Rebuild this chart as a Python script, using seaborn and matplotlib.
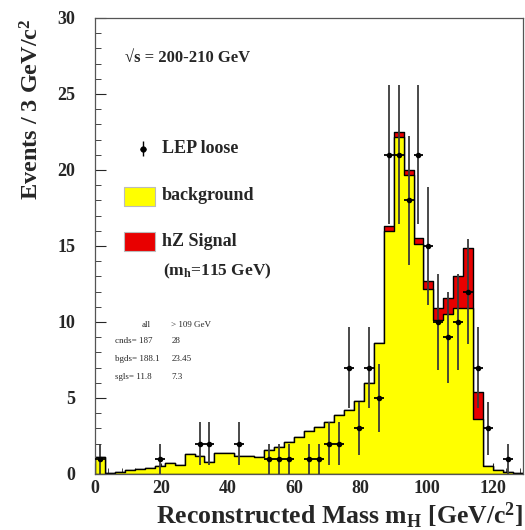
import numpy as np
import pandas as pd
import matplotlib
matplotlib.use("Agg")
import matplotlib.pyplot as plt
from matplotlib.patches import Rectangle
from matplotlib.ticker import MultipleLocator
import seaborn as sns

# ---------------- data ----------------
bin_edges = list(range(0, 130, 3))          # 3 GeV bins, 0..129
background = [1.1, 0.05, 0.15, 0.25, 0.3, 0.4, 0.5, 0.7, 0.6,
              1.3, 1.2, 0.8, 1.4, 1.35, 1.2, 1.2, 1.1,
              1.6, 1.8, 2.1, 2.45, 2.8, 3.1, 3.45, 3.9, 4.2, 4.8, 6.0, 8.6,
              16.0, 22.2, 19.7, 15.1, 12.2, 10.1, 10.5, 10.9, 10.9, 3.65,
              0.5, 0.25, 0.1, 0.05]
signal = [0.0] * 29 + [0.3, 0.3, 0.3, 0.4, 0.5, 0.8, 1.1, 2.1, 4.0, 1.75] + [0.0] * 4
data_mass = [1.5, 19.5, 31.5, 34.5, 43.5, 52.5, 55.5, 58.5, 64.5, 67.5, 70.5, 73.5,
             76.5, 79.5, 82.5, 85.5, 88.5, 91.5, 94.5, 97.5, 100.5, 103.5, 106.5,
             109.5, 112.5, 115.5, 118.5, 124.5]
data_counts = [1, 1, 2, 2, 2, 1, 1, 1, 1, 1, 2, 2,
               7, 3, 7, 5, 21, 21, 18, 21, 15, 10, 9,
               10, 12, 7, 3, 1]

x_ticks = [0, 20, 40, 60, 80, 100, 120]
y_ticks = [0, 5, 10, 15, 20, 25, 30]

# ---------------- style ----------------
sns.set_style("ticks")
plt.rcParams["font.family"] = ["Liberation Serif", "DejaVu Serif"]
plt.rcParams["font.weight"] = "bold"
plt.rcParams["mathtext.fontset"] = "custom"
plt.rcParams["mathtext.rm"] = "Liberation Serif:bold"
plt.rcParams["mathtext.it"] = "Liberation Serif:bold"
plt.rcParams["mathtext.bf"] = "Liberation Serif:bold"

fig = plt.figure(figsize=(5.25, 5.30), dpi=100)
ax = fig.add_axes([95 / 525, 1 - 474 / 530, (523 - 95) / 525, (474 - 18) / 530])

centers = [(a + b) / 2 for a, b in zip(bin_edges[:-1], bin_edges[1:])]
total = [b + s for b, s in zip(background, signal)]
df = pd.DataFrame({"mass": centers, "bg": background, "tot": total})

sns.histplot(data=df, x="mass", weights="tot", bins=bin_edges, element="step",
             fill=True, color="#e80000", edgecolor="black", linewidth=1.0,
             alpha=1, ax=ax)
sns.histplot(data=df, x="mass", weights="bg", bins=bin_edges, element="step",
             fill=True, color="#ffff00", edgecolor="black", linewidth=1.0,
             alpha=1, ax=ax)

dd = pd.DataFrame({"mass": data_mass, "n": data_counts})
err = np.sqrt(dd["n"].to_numpy(dtype=float))
ax.errorbar(dd["mass"], dd["n"], yerr=err, fmt="none", ecolor="#3a3a3a",
            elinewidth=1.3, capsize=0, zorder=5)
ax.errorbar(dd["mass"], dd["n"], xerr=1.5, fmt="none", ecolor="black",
            elinewidth=1.3, capsize=0, zorder=6)
sns.scatterplot(data=dd, x="mass", y="n", color="black", s=16, marker="o",
                edgecolor="black", linewidth=0, zorder=7, ax=ax)

# ---------------- axes ----------------
ax.set_xlim(0, 129)
ax.set_ylim(0, 30)
ax.set_xticks(x_ticks)
ax.set_yticks(y_ticks)
ax.xaxis.set_minor_locator(MultipleLocator(4))
ax.yaxis.set_minor_locator(MultipleLocator(1))
ax.tick_params(which="both", direction="in", top=False, right=False)
ax.tick_params(which="major", length=8, width=0.8, labelsize=13, pad=4)
ax.tick_params(which="minor", length=4, width=0.6)
ax.tick_params(axis="y", which="major", pad=14)
for lab in ax.get_xticklabels() + ax.get_yticklabels():
    lab.set_fontweight("bold")
for sp in ax.spines.values():
    sp.set_linewidth(0.9)
    sp.set_color("#555555")

ax.set_xlabel(r"Reconstructed Mass m$_{\rm H}$ [GeV/c$^{\rm 2}$]",
              fontsize=18.5, fontweight="bold", loc="right", labelpad=3)
ax.set_ylabel(r"Events / 3 GeV/c$^{\rm 2}$", fontsize=17.5, fontweight="bold",
              loc="top", labelpad=10)

# ---------------- annotations / legend ----------------
ax.text(9.0, 27.4, "\u221as = 200-210 GeV", fontsize=12, fontweight="bold",
        va="center", ha="left")

ax.errorbar([14.5], [21.4], yerr=[0.5], xerr=[0.8], fmt="o", ms=3.5,
            color="black", elinewidth=1.0, capsize=0)
ax.text(20.2, 21.4, "LEP loose", fontsize=13, fontweight="bold", va="center")

ax.add_patch(Rectangle((8.8, 17.6), 9.3, 1.3, facecolor="#ffff00",
                       edgecolor="#bbbbbb", linewidth=0.8))
ax.text(20.2, 18.3, "background", fontsize=13, fontweight="bold", va="center")
ax.add_patch(Rectangle((8.8, 14.7), 9.3, 1.25, facecolor="#e80000",
                       edgecolor="#bbbbbb", linewidth=0.8))
ax.text(20.2, 15.3, "hZ Signal", fontsize=13, fontweight="bold", va="center")
ax.text(20.6, 13.3, r"(m$_{\rm h}$=115 GeV)", fontsize=12.5, fontweight="bold",
        va="center")

tab_kw = dict(fontsize=6.5, fontweight="normal", va="center")
ax.text(14.2, 9.8, "all", **tab_kw)
ax.text(23.0, 9.8, "> 109 GeV", **tab_kw)
ax.text(6.0, 8.75, "cnds= 187", **tab_kw)
ax.text(23.0, 8.75, "28", **tab_kw)
ax.text(6.0, 7.57, "bgds= 188.1", **tab_kw)
ax.text(23.0, 7.57, "23.45", **tab_kw)
ax.text(6.0, 6.4, "sgls= 11.8", **tab_kw)
ax.text(23.0, 6.4, "7.3", **tab_kw)

fig.savefig("out.png", dpi=100)
